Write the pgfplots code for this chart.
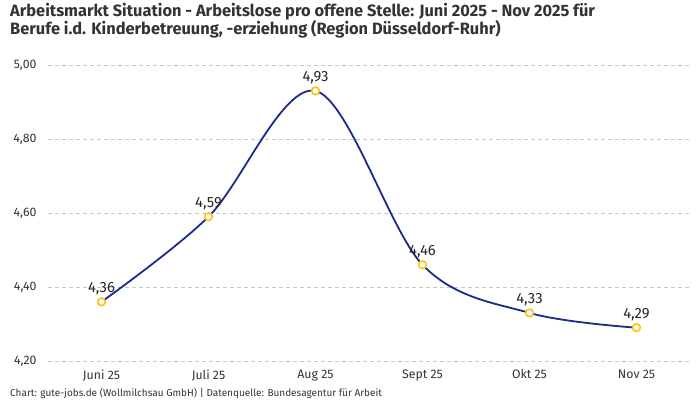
\documentclass[border=0pt]{standalone}
\usepackage{pgfplots}
\pgfplotsset{compat=1.18}
\usepackage{fontspec}
\setmainfont{Fira Sans}
\definecolor{linieblau}{HTML}{1A2B8C}
\definecolor{punktgelb}{HTML}{FFC20E}
\definecolor{textgrau}{HTML}{333333}
\definecolor{gitter}{HTML}{C8C8C8}

\begin{document}
\begin{tikzpicture}
\path (0pt,0pt) rectangle (700pt,-400pt);
% Titel
\node[anchor=base west, inner sep=0, text=textgrau,
  font=\fontsize{16.4}{18}\selectfont\bfseries] at (10pt,-16.5pt)
  {Arbeitsmarkt Situation - Arbeitslose pro offene Stelle: Juni 2025 - Nov 2025 für};
\node[anchor=base west, inner sep=0, text=textgrau,
  font=\fontsize{16.4}{18}\selectfont\bfseries] at (10pt,-34.5pt)
  {Berufe i.d. Kinderbetreuung, -erziehung (Region Düsseldorf-Ruhr)};

\begin{axis}[
  at={(48pt,-361pt)}, anchor=south west,
  width=642pt, height=296pt, scale only axis,
  xmin=-0.5, xmax=5.5, ymin=4.2, ymax=5.0,
  xtick={0,...,5},
  xticklabels={Juni 25, Juli 25, Aug 25, Sept 25, Okt 25, Nov 25},
  ytick={4.2,4.4,4.6,4.8,5.0},
  axis line style={draw=none},
  major tick length=0pt,
  ymajorgrids,
  grid style={gitter, dash pattern=on 4pt off 3pt, line width=0.6pt},
  tick label style={font=\fontsize{12.3}{14}\selectfont, text=textgrau},
  yticklabel style={xshift=-8pt},
  xticklabel style={yshift=-5pt},
  /pgf/number format/.cd, use comma, fixed, fixed zerofill, precision=2,
    assume math mode=true,
  /pgfplots/.cd,
  clip=false,
  ]
\addplot[color=linieblau, line width=1.8pt, smooth, tension=0.55,
  mark=*, mark size=3.8pt,
  mark options={draw=punktgelb, fill=white, line width=1.6pt},
  nodes near coords,
  nodes near coords style={font=\fontsize{14.8}{17}\selectfont, text=black!85,
    anchor=south, yshift=3pt}]
  coordinates {(0,4.36) (1,4.59) (2,4.93) (3,4.46) (4,4.33) (5,4.29)};
\end{axis}

\node[anchor=base west, inner sep=0, text=textgrau,
  font=\fontsize{10}{11}\selectfont] at (10pt,-396.5pt)
  {Chart: gute-jobs.de (Wollmilchsau GmbH) | Datenquelle: Bundesagentur für Arbeit};
\end{tikzpicture}
\end{document}
